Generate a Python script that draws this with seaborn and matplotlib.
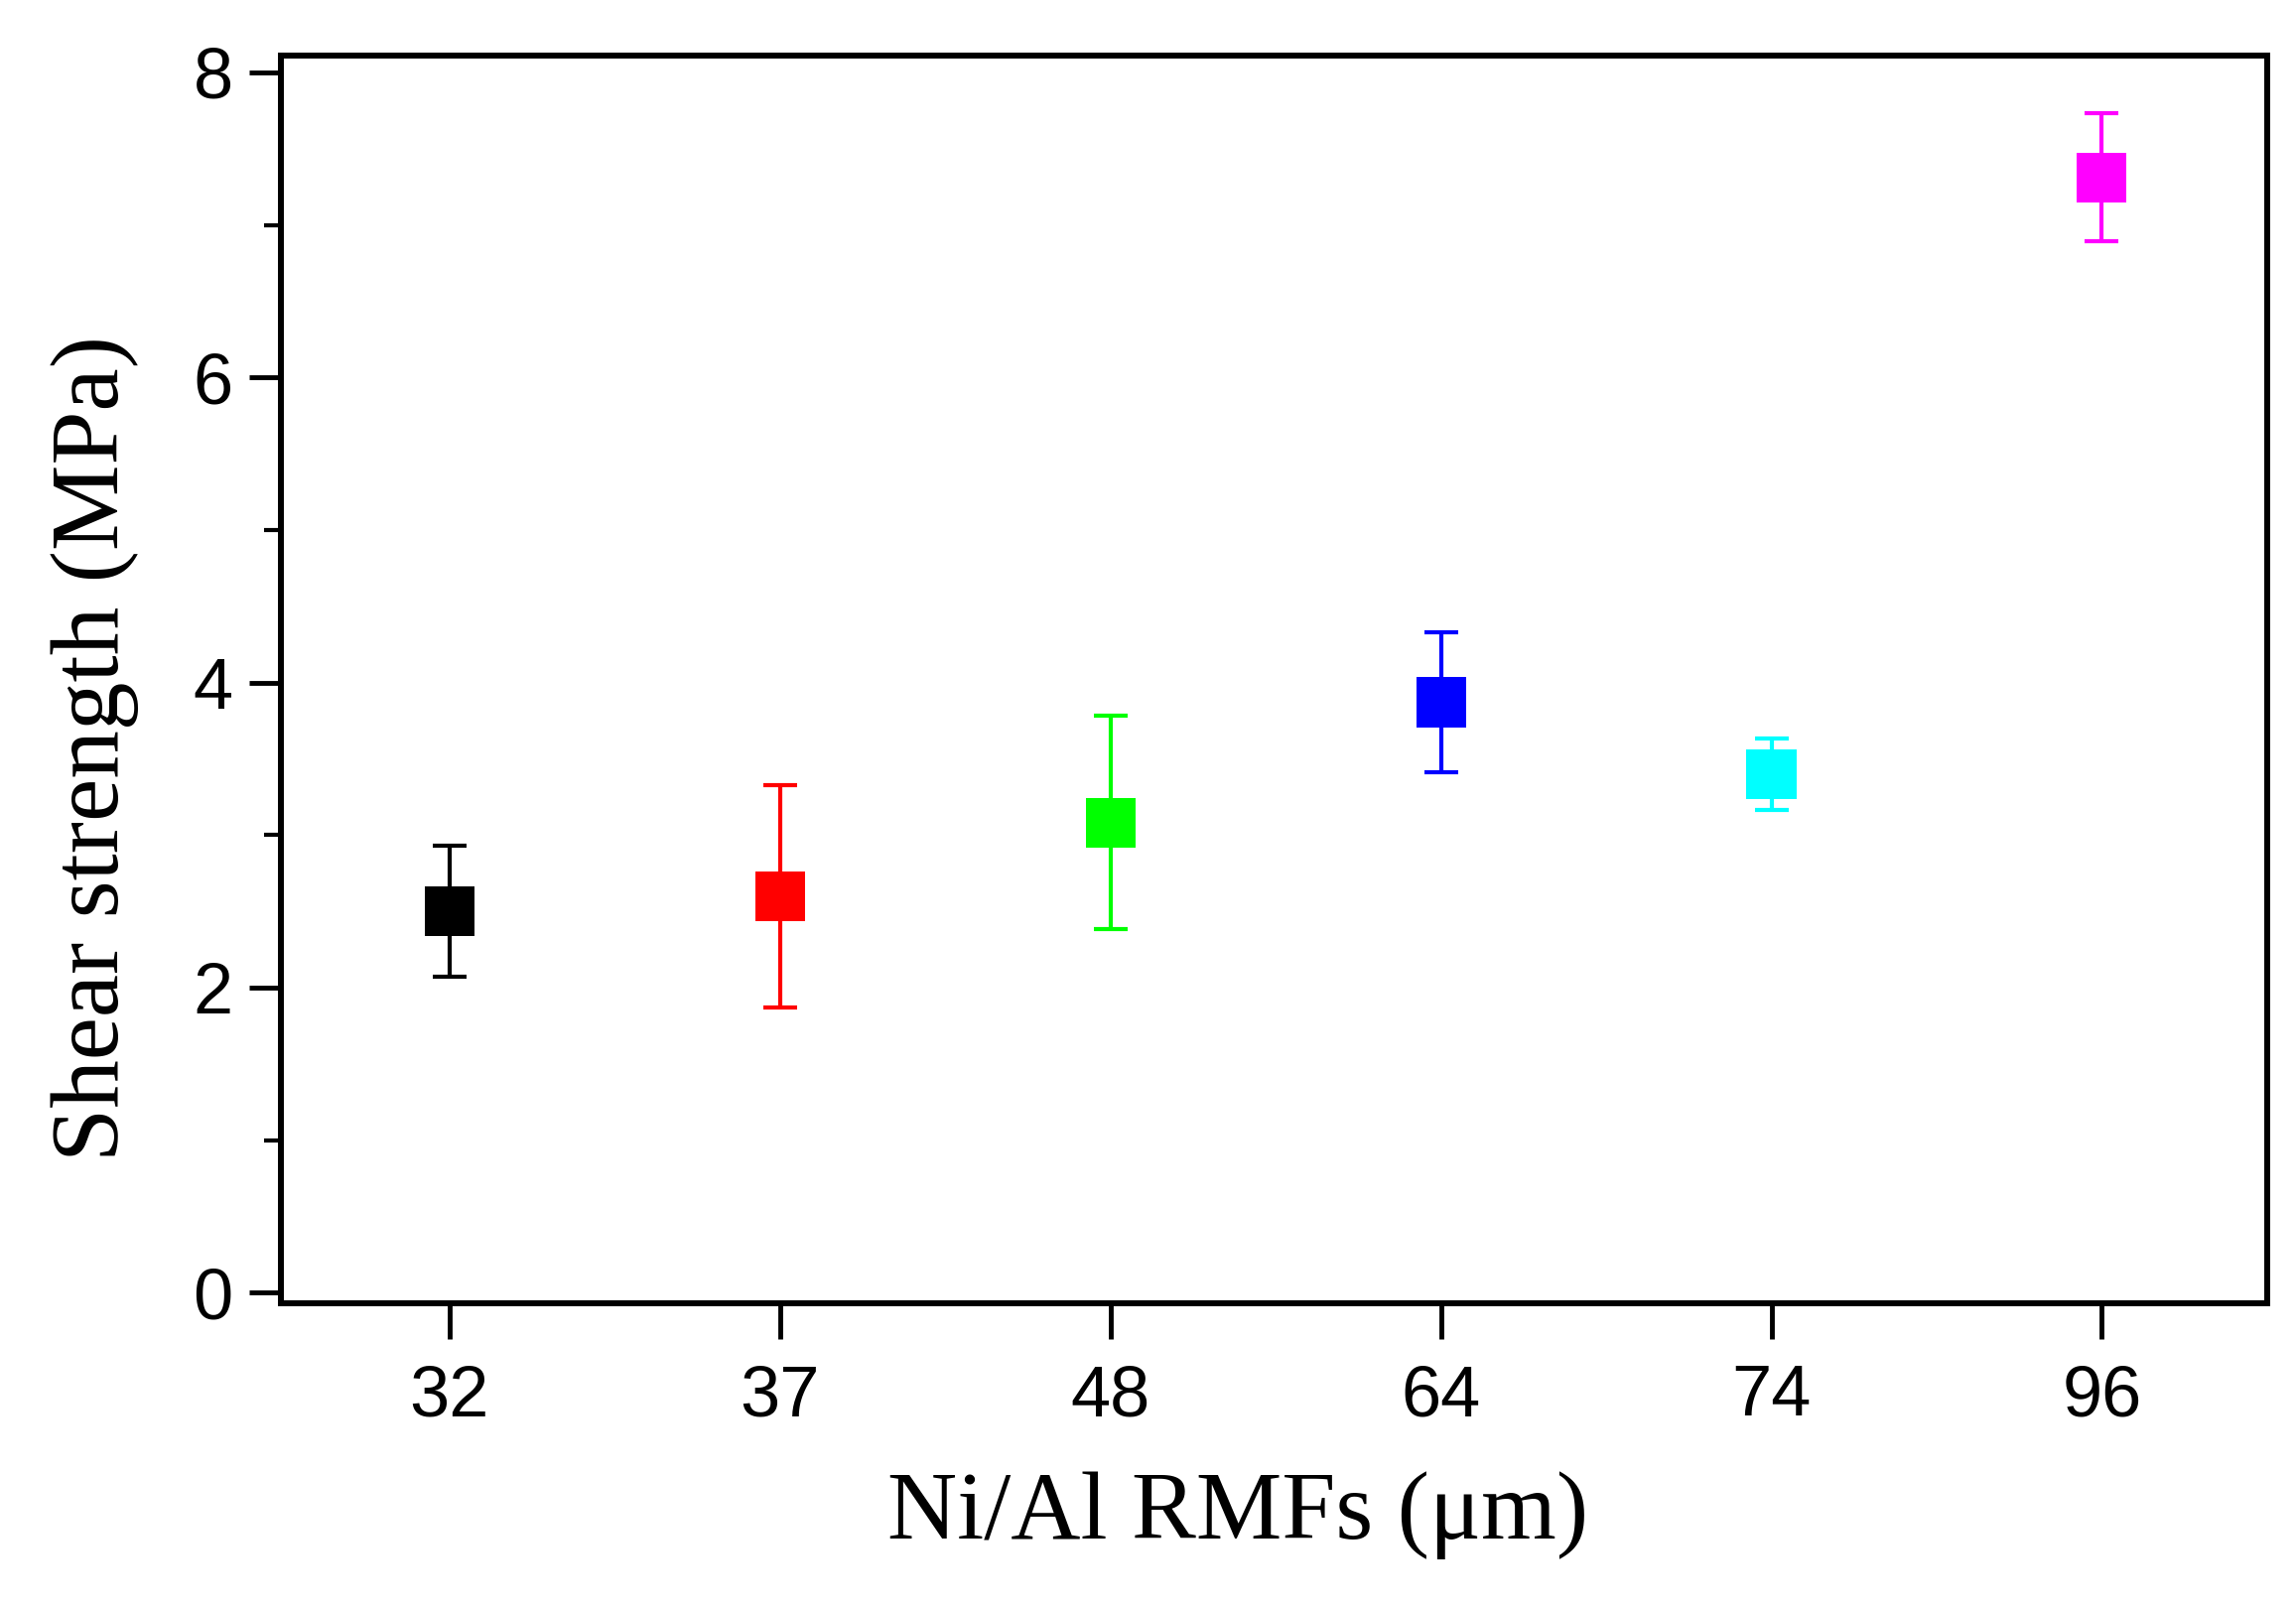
import pandas as pd
import seaborn as sns
import matplotlib.pyplot as plt
from matplotlib.ticker import MultipleLocator

# data
thickness = ["32", "37", "48", "64", "74", "96"]
strength = [2.50, 2.60, 3.08, 3.87, 3.40, 7.31]
strength_err = [0.43, 0.73, 0.70, 0.46, 0.235, 0.42]
colors = ["#000000", "#FF0000", "#00FF00", "#0000FF", "#00FFFF", "#FF00FF"]

df = pd.DataFrame({"RMF": thickness, "Strength": strength, "Err": strength_err})

sns.set_style("ticks")
plt.rcParams['font.family'] = ['Liberation Sans', 'DejaVu Sans']
plt.rcParams['text.color'] = 'black'
plt.rcParams['axes.labelcolor'] = 'black'
plt.rcParams['xtick.color'] = 'black'
plt.rcParams['ytick.color'] = 'black'

fig = plt.figure(figsize=(23.13, 16.21), dpi=100)
ax = fig.add_axes([0.1224, 0.19, 0.865, 0.7755])

# error bars first, markers on top
for i, row in df.iterrows():
    ax.errorbar(row["RMF"], row["Strength"], yerr=row["Err"], fmt="none",
                ecolor=colors[i], elinewidth=3, capsize=12, capthick=3, zorder=2)

sns.scatterplot(data=df, x="RMF", y="Strength", hue="RMF", palette=colors,
                marker="s", s=1300, linewidth=0, legend=False, ax=ax, zorder=3)

ax.set_xlim(-0.51, 5.5)
ax.set_ylim(-0.07, 8.11)
ax.yaxis.set_major_locator(MultipleLocator(2))
ax.yaxis.set_minor_locator(MultipleLocator(1))

for s in ax.spines.values():
    s.set_linewidth(4.3)
    s.set_color("black")

ax.tick_params(axis="both", which="major", direction="out", length=23, width=3.5,
               labelsize=52, pad=12)
ax.tick_params(axis="y", which="minor", direction="out", length=12, width=3)
ax.tick_params(axis="x", which="major", length=26, pad=18)

ax.set_xlabel("Ni/Al RMFs (μm)", family=["Liberation Serif", "DejaVu Serif"],
              fontsize=70)
ax.set_ylabel("Shear strength (MPa)", family=["Liberation Serif", "DejaVu Serif"],
              fontsize=70)
ax.xaxis.set_label_coords(0.4816, -0.135)
ax.yaxis.set_label_coords(-0.0715, 0.445)

fig.savefig("out.png", dpi=100, facecolor="white")
